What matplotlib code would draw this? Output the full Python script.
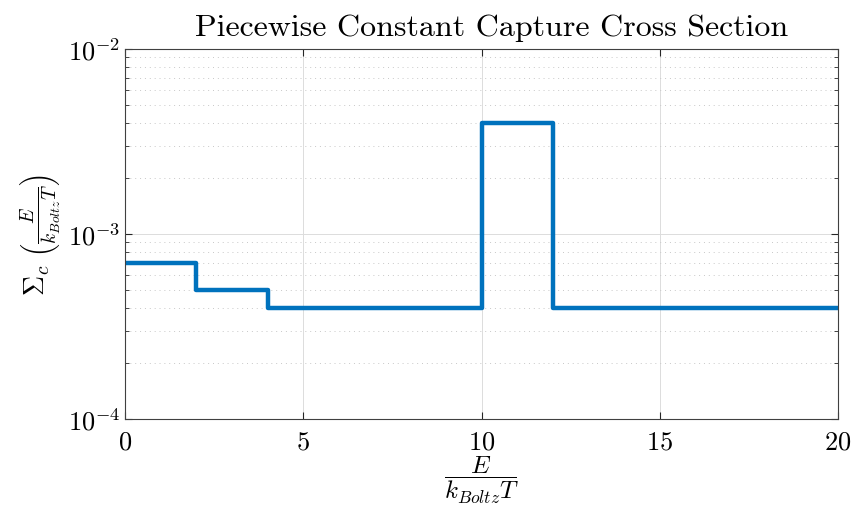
import numpy as np
import matplotlib
matplotlib.use("Agg")
import matplotlib.pyplot as plt
from matplotlib.ticker import LogLocator, NullFormatter

plt.rcParams['font.family'] = 'cmr10'
plt.rcParams['mathtext.fontset'] = 'cm'
plt.rcParams['axes.formatter.use_mathtext'] = True
plt.rcParams['axes.unicode_minus'] = False

# piecewise constant capture cross section, bin edges and bin values
energy_edges = [0, 2, 4, 10, 12, 20]
sigma_c = [7e-4, 5e-4, 4e-4, 4e-3, 4e-4]

fig = plt.figure(figsize=(8.54, 5.10), dpi=100)
ax = fig.add_axes([125/854, 1 - 420/510, (838 - 125)/854, (420 - 50)/510])

ax.step(energy_edges, sigma_c + [sigma_c[-1]], where='post',
        color='#0072BD', linewidth=3.2)

ax.set_yscale('log')
ax.set_xlim(0, 20)
ax.set_ylim(1e-4, 1e-2)
ax.set_xticks([0, 5, 10, 15, 20])
ax.yaxis.set_major_locator(LogLocator(base=10, numticks=5))
ax.yaxis.set_minor_locator(LogLocator(base=10, subs=np.arange(2, 10), numticks=20))
ax.yaxis.set_minor_formatter(NullFormatter())

ax.grid(True, which='major', color='#dcdcdc', linewidth=0.7)
ax.grid(True, which='minor', axis='y', color='#c8c8c8', linestyle=(0, (1, 4)), linewidth=0.7)
ax.set_axisbelow(True)

ax.tick_params(which='both', direction='in', top=True, right=True, labelsize=19,
               color='#262626')
ax.tick_params(which='major', length=5, width=0.8)
ax.tick_params(which='minor', length=3, width=0.6)
ax.tick_params(axis='x', pad=8)
for s in ax.spines.values():
    s.set_color('#404040')
    s.set_linewidth(0.8)

ax.set_title('Piecewise Constant Capture Cross Section', fontsize=23, pad=10, x=0.514)
ax.set_xlabel(r'$\dfrac{E}{k_{Boltz}T}$', fontsize=18, labelpad=0)
ax.set_ylabel(r'$\Sigma_c\ \left(\frac{E}{k_{Boltz}T}\right)$', fontsize=20, labelpad=4)

fig.savefig('out.png', dpi=100)
